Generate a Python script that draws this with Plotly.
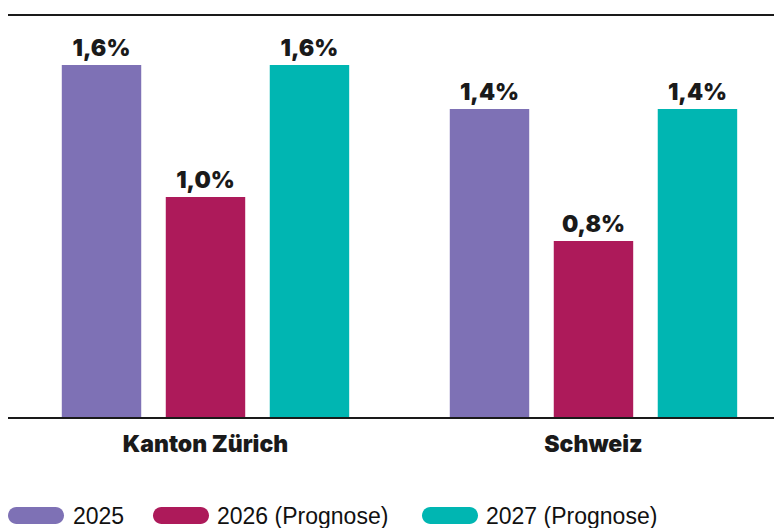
import plotly.graph_objects as go

# ---- data ----
categories = ["Kanton Zürich", "Schweiz"]
series_names = ["2025", "2026 (Prognose)", "2027 (Prognose)"]
values_2025 = [1.6, 1.4]
values_2026 = [1.0, 0.8]
values_2027 = [1.6, 1.4]
series_values = [values_2025, values_2026, values_2027]
colors = ["#7E71B5", "#AD1A5A", "#00B6B2"]

def fmt(v):
    return f"{v:.1f}".replace(".", ",") + "%"

W, H = 782, 528
ML, MR, MT, MB = 0, 0, 8, 119
PW, PH = W - ML - MR, H - MT - MB

fig = go.Figure()
for name, vals, col in zip(series_names, series_values, colors):
    fig.add_trace(go.Bar(
        x=categories, y=vals, name=name, marker=dict(color=col, line=dict(width=0)),
        text=[fmt(v) for v in vals], textposition="outside", cliponaxis=False,
        textfont=dict(family="Inter", size=23, color="#1a1a1a", weight=900),
    ))

# custom legend (pill swatches), positions in figure pixels
def to_paper(px, py):
    return (px - ML) / PW, (MT + PH - py) / PH

legend_pill_x = [0, 145, 414]
legend_text_x = [63, 207, 476]
pill_w, pill_h, pill_top = 56, 17, 499
shapes = []
annotations = []
for name, col, px, tx in zip(series_names, colors, legend_pill_x, legend_text_x):
    r = pill_h / 2
    x0, x1 = px, px + pill_w
    y0, y1 = pill_top, pill_top + pill_h
    k = 0.5523 * r
    def P(x, y):
        a, b = to_paper(x, y)
        return f"{a:.5f},{b:.5f}"
    path = (f"M {P(x0 + r, y0)} L {P(x1 - r, y0)} "
            f"C {P(x1 - r + k, y0)} {P(x1, y0 + r - k)} {P(x1, y0 + r)} "
            f"C {P(x1, y0 + r + k)} {P(x1 - r + k, y1)} {P(x1 - r, y1)} "
            f"L {P(x0 + r, y1)} "
            f"C {P(x0 + r - k, y1)} {P(x0, y0 + r + k)} {P(x0, y0 + r)} "
            f"C {P(x0, y0 + r - k)} {P(x0 + r - k, y0)} {P(x0 + r, y0)} Z")
    shapes.append(dict(type="path", xref="paper", yref="paper", path=path,
                       fillcolor=col, line=dict(width=0)))
    ax, ay = to_paper(tx, pill_top + pill_h / 2)
    annotations.append(dict(x=ax, y=ay, xref="paper", yref="paper", text=name,
                            showarrow=False, xanchor="left", yanchor="middle",
                            font=dict(family="Liberation Sans", size=23, color="#111111")))

fig.update_layout(
    width=W, height=H,
    margin=dict(l=ML, r=MR, t=MT, b=MB, pad=0),
    paper_bgcolor="white", plot_bgcolor="white",
    barmode="group", bargap=0.196, bargroupgap=0.236,
    showlegend=False,
    shapes=shapes, annotations=annotations,
    xaxis=dict(range=[-0.509, 1.5065], showline=True, mirror=True, linecolor="#1a1a1a",
               linewidth=2, ticks="", ticklabelstandoff=5,
               tickfont=dict(family="Inter", size=23, color="#1a1a1a", weight=900),
               showgrid=False, zeroline=False),
    yaxis=dict(range=[0, 1.823], visible=False, showgrid=False, zeroline=False),
)

fig.write_html("out.html")
